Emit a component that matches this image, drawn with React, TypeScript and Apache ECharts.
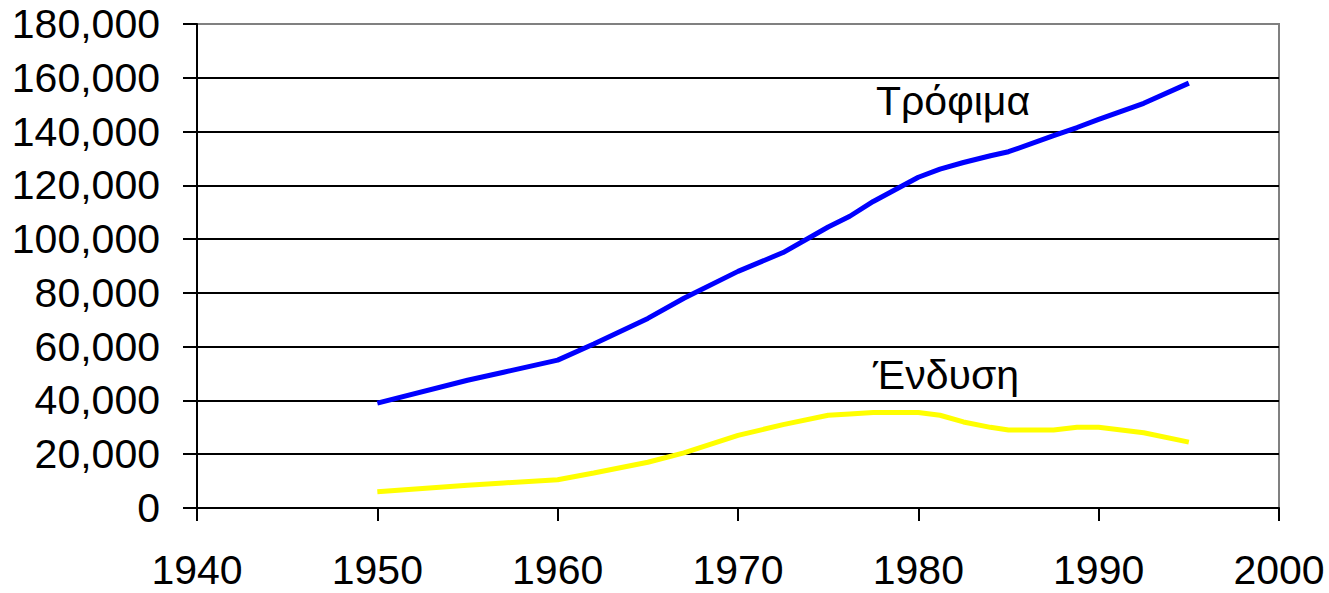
import React, { useEffect, useRef } from "react";
import * as echarts from "echarts";

const years = [1950, 1955, 1957, 1960, 1962, 1965, 1967, 1970, 1972.5, 1975, 1976.2, 1977.5, 1980, 1981.2, 1982.5, 1984, 1985, 1987.5, 1988.8, 1990, 1992.5, 1995];
const foodValues = [39000, 47500, 50500, 55000, 61000, 70500, 78000, 88000, 95000, 104500, 108500, 114000, 123000, 126000, 128500, 131000, 132500, 138500, 141500, 144500, 150500, 158000];
const clothingValues = [6000, 8500, 9300, 10500, 13000, 17000, 20500, 27000, 31000, 34500, 35000, 35500, 35500, 34500, 32000, 30000, 29000, 29000, 30000, 30000, 28000, 24500];
const seriesNames = ["Τρόφιμα", "Ένδυση"];
const yTicks = [0, 20000, 40000, 60000, 80000, 100000, 120000, 140000, 160000, 180000];
const xTicks = [1940, 1950, 1960, 1970, 1980, 1990, 2000];

const FONT = "'Liberation Sans', Arial, sans-serif";

export default function App() {
  const ref = useRef<HTMLDivElement>(null);
  useEffect(() => {
    document.body.style.margin = "0";
    if (!ref.current) return;
    const chart = echarts.init(ref.current, null, { renderer: "svg" });
    const splitColors = yTicks.map((_, i) => (i === yTicks.length - 1 ? "#808080" : "#000000"));
    chart.setOption({
      animation: false,
      backgroundColor: "#ffffff",
      grid: {
        left: 197,
        right: 50,
        top: 24,
        bottom: 85,
        show: true,
        borderColor: "#808080",
        borderWidth: 2,
        backgroundColor: "transparent",
      },
      xAxis: {
        type: "value",
        min: xTicks[0],
        max: xTicks[xTicks.length - 1],
        interval: 10,
        axisLine: { show: true, lineStyle: { color: "#000", width: 2 } },
        axisTick: { show: true, length: 13, lineStyle: { color: "#000", width: 2 } },
        splitLine: { show: false },
        axisLabel: {
          margin: 41,
          fontSize: 41,
          lineHeight: 41,
          fontFamily: FONT,
          color: "#000",
          formatter: (v: number) => String(v),
        },
      },
      yAxis: {
        type: "value",
        min: yTicks[0],
        max: yTicks[yTicks.length - 1],
        interval: 20000,
        axisLine: { show: true, lineStyle: { color: "#000", width: 2 } },
        axisTick: { show: true, length: 14, lineStyle: { color: "#000", width: 2 } },
        splitLine: { show: true, lineStyle: { color: splitColors, width: 2 } },
        axisLabel: {
          margin: 37,
          fontSize: 41,
          fontFamily: FONT,
          color: "#000",
          formatter: (v: number) => v.toLocaleString("en-US"),
        },
      },
      series: [
        {
          name: seriesNames[0],
          type: "line",
          data: years.map((y, i) => [y, foodValues[i]]),
          showSymbol: false,
          lineStyle: { color: "#0000FF", width: 5 },
          itemStyle: { color: "#0000FF" },
          z: 5,
        },
        {
          name: seriesNames[1],
          type: "line",
          data: years.map((y, i) => [y, clothingValues[i]]),
          showSymbol: false,
          lineStyle: { color: "#FFFF00", width: 5 },
          itemStyle: { color: "#FFFF00" },
          z: 5,
        },
      ],
      graphic: [
        {
          type: "text",
          left: 876,
          top: 80,
          style: { text: seriesNames[0], font: `41px ${FONT}`, fill: "#000" },
        },
        {
          type: "text",
          left: 873,
          top: 354,
          style: { text: seriesNames[1], font: `41px ${FONT}`, fill: "#000" },
        },
      ],
    });
    return () => chart.dispose();
  }, []);
  return <div ref={ref} style={{ width: 1329, height: 593 }} />;
}
